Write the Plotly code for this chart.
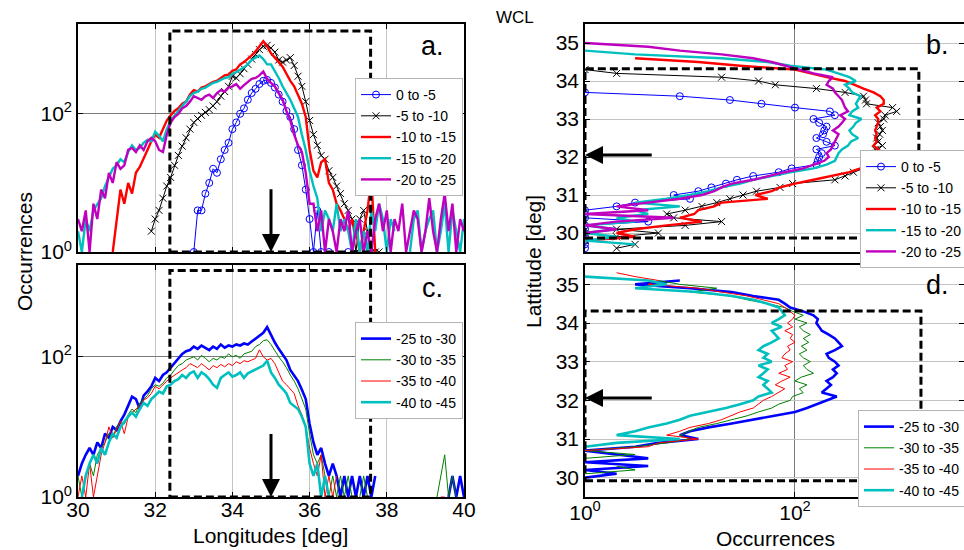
import numpy as np
import plotly.graph_objects as go

# histogram bins (deg)
lon_bins = np.round(np.arange(30.0, 40.05, 0.1), 1)   # 30.0 .. 40.0
lat_bins = np.round(np.arange(29.6, 35.35, 0.1), 1)   # 29.6 .. 35.3
N = None

# ---- panel a : occurrences vs longitude, shallow depth bins ----
a_0_5 = [N]*30 + [1, 4, 4, 7, 10, 16, 14, 22, 30, 38,
                  60, 75, 100, 120, 160, 200, 230, 270, 300, 310,
                  280, 240, 190, 150, 110, 90, 60, 30, 18, 8,
                  3, 1, 4, 1, N, 1, N, N, N, N,
                  1] + [N]*30
a_5_10 = [N]*19 + [2,
                   3, 4, 6, 9, 12, 18, 25, 34, 45, 60,
                   75, 85, 95, 105, 115, 130, 150, 180, 210, 250,
                   350, 330, 380, 450, 520, 620, 720, 850, 950, 980,
                   900, 780, 600, 560, 600, 650, 500, 350, 250, 150,
                   80, 50, 35, 25, 22, 15, 12, 9, 7, 5,
                   4, 3, 1, 3, 4, 2, 1, 1, 1] + [N]*22
a_10_15 = [N]*9 + [1,
                   3, 8, 5, 10, 7, 14, 17, 22, 30, 40,
                   50, 45, 60, 80, 95, 110, 120, 140, 150, 190,
                   220, 210, 240, 250, 270, 290, 300, 330, 360, 370,
                   420, 440, 520, 560, 620, 700, 800, 950, 1120, 950,
                   750, 650, 560, 480, 380, 300, 250, 190, 140, 90,
                   30, 15, 12, 20, 22, 10, 8, 5, 4, 3,
                   2, 3, 2, 1, 2, 4, 12, 1] + [N]*23
a_15_20 = [2, 1, 3, 2, 4, 5, 6, 9, 12, 16,
           18, 22, 20, 28, 35, 30, 32, 38, 42, 40,
           55, 48, 40, 60, 80, 95, 110, 130, 150, 180,
           200, 210, 230, 240, 260, 280, 290, 310, 330, 340,
           380, 400, 430, 470, 520, 600, 650, 700, 620, 520,
           520, 420, 330, 250, 200, 160, 120, 90, 50, 30,
           15, 9, 6, 2, 4, 3, 2, 5, 2, 3,
           2, 1, 3, 1, 2, 1, 4, 2, 5, 3,
           1, 3, 2, N, 2, N, 1, 3, 4, 1,
           2, 3, 4, 1, 2, 5, 1, 4, 2, 1,
           3]
a_20_25 = [3, 2, 4, 1, 5, 3, 8, 6, 14, 10,
           20, 16, 18, 30, 32, 28, 35, 30, 40, 45,
           40, 30, 28, 50, 75, 90, 100, 120, 130, 150,
           180, 170, 160, 180, 190, 170, 200, 220, 210, 240,
           250, 270, 230, 260, 290, 320, 330, 360, 410, 320,
           280, 250, 200, 160, 110, 80, 50, 35, 28, 14,
           5, 5, 2, 4, 1, 3, 2, 1, 3, 2,
           4, 1, 2, 3, 1, 2, 1, 3, 5, 2,
           4, 1, 3, 2, 5, 1, 2, 4, 3, 1,
           2, 6, 2, 1, 3, 7, 2, 5, 1, 3,
           2]

# ---- panel c : occurrences vs longitude, deep bins ----
c_25_30 = [2, 3, 4, 5, 4, 6, 5, 8, 7, 10,
           9, 12, 15, 20, 27, 25, 18, 28, 32, 38,
           50, 45, 55, 60, 70, 80, 95, 110, 120, 125,
           140, 130, 145, 135, 125, 140, 130, 150, 135, 145,
           140, 150, 145, 155, 150, 165, 180, 200, 220, 265,
           200, 160, 130, 110, 90, 65, 55, 45, 34, 25,
           11, 6, 4, 5, 3, 2, 3, 2, 1, 2,
           1, 2, 1, 2, 1, 2, 1, 2, N, 1,
           N, N, N, N, N, N, N, N, N, N,
           N, N, N, N, N, N, 1, 2, 1, 2,
           1]
c_30_35 = [2, 1, 2, 3, 2, 4, 5, 6, 8, 7,
           10, 12, 11, 15, 18, 16, 22, 25, 28, 35,
           40, 38, 42, 50, 55, 65, 75, 80, 90, 95,
           100, 90, 105, 95, 85, 95, 90, 100, 95, 110,
           100, 105, 95, 110, 115, 120, 140, 150, 170, 175,
           150, 120, 100, 85, 70, 55, 45, 35, 25, 18,
           8, 4, 3, 4, 2, 1, 2, 1, 2, 1,
           2, 1, N, 1, 2, 1, N, N, N, N,
           N, N, N, N, N, N, N, N, N, N,
           N, N, N, 1, 2, 4, 1, 2, 1, N,
           2]
c_35_40 = [1, 2, 1, 3, 1, 2, 4, 6, 10, 7,
           9, 12, 8, 14, 16, 18, 20, 24, 26, 30,
           38, 35, 40, 45, 50, 55, 60, 65, 70, 80,
           75, 70, 80, 72, 65, 75, 70, 78, 72, 80,
           75, 85, 80, 88, 85, 90, 95, 126, 100, 90,
           95, 80, 60, 45, 40, 35, 30, 20, 15, 10,
           5, 3, 2, 4, 1, 2, 1, 2, N, N,
           1, N, N, N, N, N, 1, N, N, N,
           N, N, N, N, N, N, N, N, N, N,
           N, N, N, N, 1, 1, N, N, N, N,
           1]
c_40_45 = [N, 1, 2, 3, 4, 3, 5, 4, 6, 8,
           7, 10, 12, 14, 16, 14, 18, 22, 20, 25,
           28, 32, 30, 38, 40, 45, 48, 55, 50, 58,
           62, 50, 60, 55, 48, 40, 36, 50, 55, 60,
           52, 55, 60, 50, 58, 62, 65, 70, 75, 88,
           60, 50, 40, 35, 30, 22, 20, 18, 14, 10,
           3, 2, 3, 1, 2, 1, N, N, N, N,
           N, N, N, N, N, N, N, N, N, N,
           N, N, N, N, N, N, N, N, N, N,
           N, 1, N, N, N, N, N, N, 1, N,
           1]

# ---- panel b : occurrences vs latitude, shallow bins (29.6 .. 35.3) ----
b_0_5 = [1, 1, 1, 1,
         1, 1, 1, 4, 1, 1, 1, 2, 3, 10,
         7, 12, 16, 22, 28, 40, 70, 93, 160, 165,
         170, 180, 160, 240, 200, 160, 185, 190, 200, 170,
         150, 240, 215, 100, 48, 24, 8, 1, N, N,
         N, N, N, N, N, N, N, N, N, N,
         N, N, N, N]
b_5_10 = [2, 3, 1, 2,
          5, 2, 9, 20, 7, 6, 9, 13, 18, 24,
          32, 43, 72, 95, 240, 300, 360, 450, 500, 540,
          560, 600, 580, 680, 620, 600, 640, 680, 650, 620,
          700, 720, 930, 850, 480, 470, 450, 300, 160, 65,
          45, 20, 2, 1, N, N, N, N, N, N,
          N, N, N, N]
b_10_15 = [N, N, 1, 3,
           2, 3, 6, 13, 8, 11, 12, 17, 20, 55,
           42, 60, 72, 100, 150, 230, 330, 420, 490, 500,
           500, 540, 620, 560, 600, 580, 600, 580, 600, 620,
           620, 580, 650, 600, 700, 700, 650, 560, 450, 360,
           300, 200, 140, 100, 30, 12, 3, N, N, N,
           N, N, N, N]
b_15_20 = [N, 3, 1, 2,
           1, 2, 1, 3, 2, 4, 3, 8, 3, 6,
           10, 15, 20, 30, 40, 60, 90, 150, 200, 240,
           250, 260, 280, 320, 340, 400, 350, 330, 360, 380,
           430, 330, 350, 400, 380, 400, 420, 350, 330, 300,
           380, 330, 260, 200, 90, 55, 20, 3, 1, N,
           N, N, N, N]
b_20_25 = [N, N, N, 1,
           1, 2, 1, 2, 7, 1, 4, 2, 4, 8,
           13, 17, 20, 25, 40, 55, 80, 120, 150, 190,
           210, 200, 220, 230, 240, 250, 260, 230, 260, 280,
           300, 270, 320, 300, 290, 280, 260, 240, 230, 200,
           210, 230, 150, 110, 80, 60, 40, 20, 8, 4,
           1, N, N, N]

# ---- panel d : occurrences vs latitude, deep bins (29.6 .. 35.3) ----
d_25_30 = [N, N, N, N,
           1, 2, 1, 4, 1, 4, 2, 1, 3, 5,
           12, 8, 10, 15, 25, 40, 60, 100, 130, 160,
           200, 250, 180, 200, 220, 200, 230, 250, 230, 260,
           240, 210, 200, 240, 280, 260, 240, 210, 180, 170,
           160, 165, 150, 120, 90, 80, 70, 40, 25, 10,
           3, 8, N, N]
d_30_35 = [N, N, N, N,
           N, 1, 3, 2, N, 1, 3, 1, 3, 6,
           10, 8, 10, 12, 18, 25, 35, 45, 60, 70,
           90, 95, 120, 110, 130, 100, 115, 150, 130, 120,
           140, 120, 110, 130, 115, 135, 120, 140, 120, 110,
           130, 100, 120, 95, 80, 55, 35, 25, 10, 18,
           8, 5, N, N]
d_35_40 = [N, N, N, N,
           N, N, N, N, N, N, N, 1, 4, 5,
           12, 6, 8, 10, 15, 20, 25, 30, 40, 45,
           50, 60, 70, 80, 65, 75, 90, 70, 85, 80,
           95, 75, 80, 90, 85, 100, 90, 95, 80, 95,
           85, 95, 100, 90, 80, 70, 50, 35, 20, 12,
           4, 5, 3, 2]
d_40_45 = [N, N, N, N,
           N, N, N, N, N, N, N, N, 1, 2,
           8, 2, 3, 4, 6, 8, 10, 15, 22, 30,
           40, 45, 60, 55, 50, 55, 45, 50, 55, 45,
           60, 50, 55, 45, 50, 60, 70, 65, 60, 75,
           60, 70, 80, 75, 70, 55, 40, 25, 12, 3,
           6, 4, 1, N]

shallow_names = ["0 to -5", "-5 to -10", "-10 to -15", "-15 to -20", "-20 to -25"]
deep_names = ["-25 to -30", "-30 to -35", "-35 to -40", "-40 to -45"]

BLUE, BLACK, RED, CYAN, MAG, GREEN = "#0000ff", "#000000", "#ff0000", "#00bfbf", "#bf00bf", "#008000"
FONT = "Arial, Liberation Sans, sans-serif"

# style per series: (color, width, marker)
shallow_style = [(BLUE, 1, "circle-open"), (BLACK, 1, "x-thin-open"),
                 (RED, 2.4, None), (CYAN, 2.4, None), (MAG, 2.4, None)]
deep_style = [(BLUE, 2.6, None), (GREEN, 1, None), (RED, 1, None), (CYAN, 2.6, None)]


def make_trace(x, y, name, style, xa, ya, legend):
    color, width, marker = style
    tr = go.Scatter(x=x, y=y, name=name, xaxis=xa, yaxis=ya, legend=legend,
                    mode="lines+markers" if marker else "lines",
                    line=dict(color=color, width=width))
    if marker:
        tr.marker = dict(symbol=marker, size=7, color=color, line=dict(color=color, width=1))
    return tr


fig = go.Figure()
for vals, name, st in zip([a_0_5, a_5_10, a_10_15, a_15_20, a_20_25], shallow_names, shallow_style):
    fig.add_trace(make_trace(lon_bins, vals, name, st, "x", "y", "legend"))
for vals, name, st in zip([b_0_5, b_5_10, b_10_15, b_15_20, b_20_25], shallow_names, shallow_style):
    fig.add_trace(make_trace(vals, lat_bins, name, st, "x2", "y2", "legend2"))
for vals, name, st in zip([c_25_30, c_30_35, c_35_40, c_40_45], deep_names, deep_style):
    fig.add_trace(make_trace(lon_bins, vals, name, st, "x3", "y3", "legend3"))
for vals, name, st in zip([d_25_30, d_30_35, d_35_40, d_40_45], deep_names, deep_style):
    fig.add_trace(make_trace(vals, lat_bins, name, st, "x4", "y4", "legend4"))

W, H = 964, 550


def px_x(p):
    return p / W


def px_y(p):
    return 1 - p / H


left_dom = [px_x(78), px_x(464)]
right_dom = [px_x(585), 1.0]
top_dom = [px_y(252), px_y(24)]
bot_dom = [px_y(497), px_y(265)]

tickfont = dict(family=FONT, size=21, color="black")
axis_common = dict(showline=True, linecolor="black", linewidth=1.6, mirror="ticks",
                   ticks="inside", ticklen=5, tickcolor="black", tickfont=tickfont,
                   zeroline=False)
log_ticks = dict(type="log", tickvals=[1, 100], ticktext=["10<sup>0</sup>", "10<sup>2</sup>"],
                 gridcolor="#7a7a7a", gridwidth=1)
lon_axis = dict(range=[30, 40], tickvals=[30, 32, 34, 36, 38, 40], gridcolor="#c4c4c4", gridwidth=1)
lat_axis = dict(range=[29.5, 35.5], tickvals=[30, 31, 32, 33, 34, 35], gridcolor="#c4c4c4", gridwidth=1)

fig.update_layout(
    width=W, height=H,
    margin=dict(l=0, r=0, t=0, b=0, autoexpand=False),
    paper_bgcolor="white", plot_bgcolor="white",
    font=dict(family=FONT, color="black"),
    xaxis=dict(domain=left_dom, anchor="y", showticklabels=False, **lon_axis, **axis_common),
    yaxis=dict(domain=top_dom, anchor="x", range=[0, 3.3], **log_ticks, **axis_common),
    xaxis3=dict(domain=left_dom, anchor="y3", ticklabelstandoff=-7, **lon_axis, **axis_common),
    yaxis3=dict(domain=bot_dom, anchor="x3", range=[0, 3.31], **log_ticks, **axis_common),
    xaxis2=dict(domain=right_dom, anchor="y2", range=[0, 3.61], showticklabels=False,
                **log_ticks, **axis_common),
    yaxis2=dict(domain=top_dom, anchor="x2", **lat_axis, **axis_common),
    xaxis4=dict(domain=right_dom, anchor="y4", range=[0, 3.61], ticklabelstandoff=-4,
                **log_ticks, **axis_common),
    yaxis4=dict(domain=bot_dom, anchor="x4", **lat_axis, **axis_common),
    showlegend=True,
)

leg_common = dict(bgcolor="white", bordercolor="#b4b4b4", borderwidth=1,
                  font=dict(family=FONT, size=14, color="black"),
                  tracegroupgap=0, xanchor="left", yanchor="top")
fig.update_layout(
    legend=dict(x=px_x(355), y=px_y(78), **leg_common),
    legend2=dict(x=px_x(860), y=px_y(150), **leg_common),
    legend3=dict(x=px_x(355), y=px_y(322), **leg_common),
    legend4=dict(x=px_x(858), y=px_y(410), **leg_common),
)

# dashed boxes
dash = dict(color="black", width=3, dash="8px,4px")
fig.add_shape(type="rect", xref="x", yref="y", x0=32.38, x1=37.58, y0=1, y1=10**3.2, line=dash)
fig.add_shape(type="rect", xref="x3", yref="y3", x0=32.38, x1=37.58, y0=1, y1=10**3.23, line=dash)
fig.add_shape(type="rect", xref="x2", yref="y2", x0=1, x1=10**3.18, y0=29.87, y1=34.32, line=dash)
fig.add_shape(type="rect", xref="x4", yref="y4", x0=1, x1=10**3.2, y0=29.92, y1=34.31, line=dash)

# arrows (annotation positions on log axes are log10 values)
arrow = dict(showarrow=True, arrowhead=2, arrowsize=1.2, arrowwidth=3, arrowcolor="black", text="")
fig.add_annotation(x=35, y=0, ax=35, ay=0.93, xref="x", yref="y", axref="x", ayref="y", **arrow)
fig.add_annotation(x=35, y=0, ax=35, ay=0.92, xref="x3", yref="y3", axref="x3", ayref="y3", **arrow)
fig.add_annotation(x=0, y=32.05, ax=0.65, ay=32.05, xref="x2", yref="y2", axref="x2", ayref="y2", **arrow)
fig.add_annotation(x=0, y=32.06, ax=0.65, ay=32.06, xref="x4", yref="y4", axref="x4", ayref="y4", **arrow)


def label(text, xp, yp, size, angle=0):
    fig.add_annotation(text=text, x=px_x(xp), y=px_y(yp), xref="paper", yref="paper",
                       xanchor="center", yanchor="middle", textangle=angle, showarrow=False,
                       font=dict(family=FONT, size=size, color="black"))


# panel letters and titles
for txt, xp, yp in [("a.", 432, 46), ("b.", 937, 45), ("c.", 432, 288), ("d.", 937, 285)]:
    label(txt, xp, yp, 27)
label("WCL", 515, 18, 17)
label("Occurrences", 24, 252, 21, -90)
label("Lattitude [deg]", 533, 262, 21, -90)
label("Longitudes [deg]", 270, 535, 21)
label("Occurrences", 775, 538, 21)

fig.write_html("out.html", config={"displayModeBar": False},
               post_script="document.body.style.margin='0px';")
